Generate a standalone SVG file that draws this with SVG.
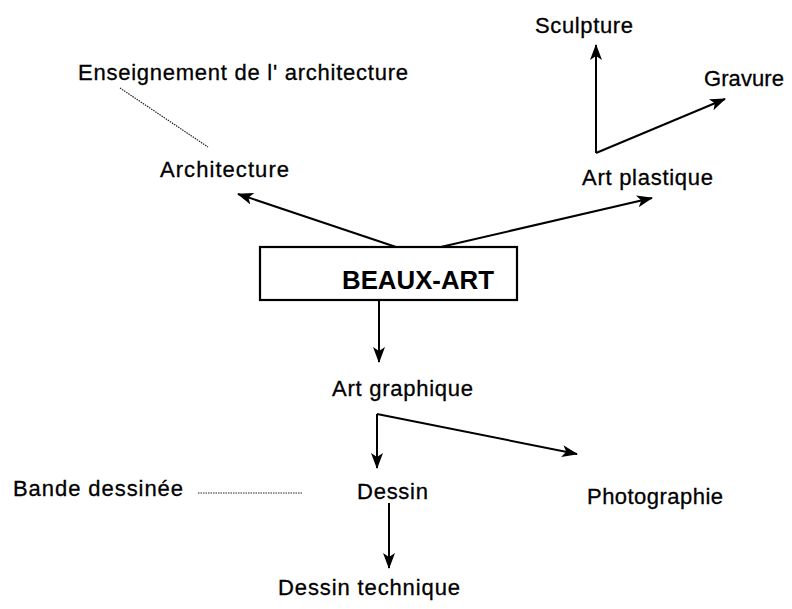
<svg xmlns="http://www.w3.org/2000/svg" width="792" height="609" viewBox="0 0 792 609">
  <defs>
    <marker id="arrow" viewBox="0 0 16 12" refX="15" refY="6" markerWidth="16" markerHeight="12" markerUnits="userSpaceOnUse" orient="auto">
      <path d="M0,0 L16,6 L0,12 L4,6 z" fill="#000"/>
    </marker>
    <style>
      .lbl { font-family: "Liberation Sans", Arial, sans-serif; font-size: 22px; fill: #000; stroke: #000; stroke-width: 0.3; }
      .title { font-family: "Liberation Sans", Arial, sans-serif; font-size: 25px; font-weight: bold; fill: #000; }
      .link { fill: none; stroke: #000; stroke-width: 2; marker-end: url(#arrow); }
      .dots { fill: none; stroke: #222; stroke-width: 1.2; stroke-dasharray: 1.5 1; }
      .box { fill: #fff; stroke: #000; stroke-width: 2.2; }
    </style>
  </defs>
  <rect width="792" height="609" fill="#fff"/>

  <!-- connectors -->
  <g id="connectors">
    <line class="link" x1="402" y1="249" x2="238" y2="194"/>
    <line class="link" x1="432" y1="249" x2="652" y2="198"/>
    <line class="link" x1="596" y1="153" x2="596" y2="45"/>
    <line class="link" x1="596" y1="153" x2="725" y2="99"/>
    <line class="link" x1="379" y1="300" x2="379" y2="362"/>
    <line class="link" x1="377" y1="414" x2="377" y2="468"/>
    <line class="link" x1="377" y1="414" x2="577" y2="454"/>
    <line class="link" x1="389" y1="503" x2="389" y2="568"/>
    <line class="dots" x1="120" y1="88" x2="208" y2="147"/>
    <line class="dots" x1="198" y1="493" x2="303" y2="493"/>
  </g>

  <!-- nodes -->
  <g id="beaux-art">
    <rect class="box" x="260" y="247" width="257" height="53"/>
    <text class="title" x="342" y="289" textLength="152" lengthAdjust="spacingAndGlyphs">BEAUX-ART</text>
  </g>
  <g id="enseignement">
    <text class="lbl" x="78" y="80" textLength="330" lengthAdjust="spacing">Enseignement de l' architecture</text>
  </g>
  <g id="architecture">
    <text class="lbl" x="160" y="177" textLength="129" lengthAdjust="spacing">Architecture</text>
  </g>
  <g id="sculpture">
    <text class="lbl" x="535" y="33" textLength="98" lengthAdjust="spacing">Sculpture</text>
  </g>
  <g id="gravure">
    <text class="lbl" x="704" y="86" textLength="80" lengthAdjust="spacing">Gravure</text>
  </g>
  <g id="art-plastique">
    <text class="lbl" x="582" y="185" textLength="131" lengthAdjust="spacing">Art plastique</text>
  </g>
  <g id="art-graphique">
    <text class="lbl" x="332" y="396" textLength="141" lengthAdjust="spacing">Art graphique</text>
  </g>
  <g id="bande-dessinee">
    <text class="lbl" x="13" y="496" textLength="170" lengthAdjust="spacing">Bande dessinée</text>
  </g>
  <g id="dessin">
    <text class="lbl" x="357" y="499" textLength="71" lengthAdjust="spacing">Dessin</text>
  </g>
  <g id="photographie">
    <text class="lbl" x="587" y="504" textLength="136" lengthAdjust="spacing">Photographie</text>
  </g>
  <g id="dessin-technique">
    <text class="lbl" x="278" y="595" textLength="182" lengthAdjust="spacing">Dessin technique</text>
  </g>
</svg>
